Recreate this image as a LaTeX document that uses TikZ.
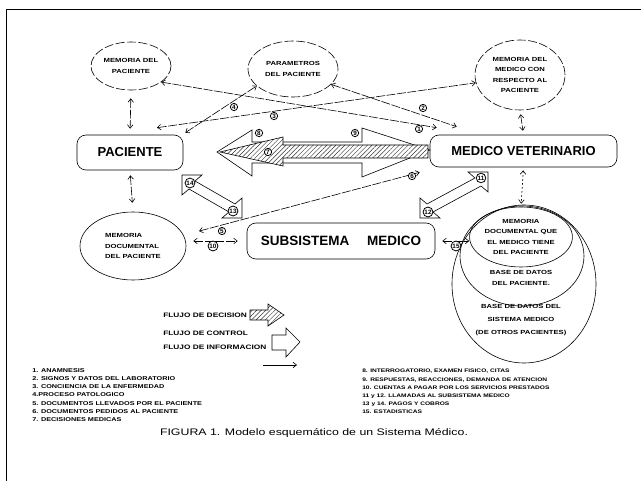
\documentclass[tikz,border=0pt]{standalone}
\usepackage{fontspec}
\setmainfont{Liberation Sans}
\newfontfamily\widesf[FakeStretch=1.3]{Liberation Sans}
\usetikzlibrary{shapes.geometric, arrows.meta, patterns.meta}

\newcommand{\lblfont}{\widesf\fontsize{5.9}{10.5}\selectfont\bfseries}
\newcommand{\boxfont}{\fontsize{13}{15}\selectfont\bfseries}
\newcommand{\numfont}{\fontsize{6.3}{7}\selectfont\bfseries}

\begin{document}
\begin{tikzpicture}[x=1pt, y=-1pt, line width=0.6pt,
    >={Straight Barb[length=3.5pt,width=5.5pt]},
    memo/.style={ellipse, draw, inner sep=0pt, align=center, font=\lblfont},
    card/.style={draw, rounded corners=9pt, font=\boxfont},
    num/.style={circle, draw, line width=0.8pt, fill=white, inner sep=0.6pt, font=\numfont},
    info/.style={<->, dash pattern=on 9pt off 1.5pt},
    ctrl/.style={draw},
    dec/.style={draw, preaction={fill=white}, pattern={Lines[angle=45, distance=3.2pt, line width=0.45pt]}, pattern color=black!80}]

    \useasboundingbox (0,0) rectangle (641,481);

    % Frame
    \draw[line width=1pt] (6,481) -- (6,10) -- (641,10);

    % Memories
    \node[memo, dash pattern=on 9pt off 2.5pt, minimum width=80pt, minimum height=48pt] (mempac) at (131,66) {MEMORIA DEL\\PACIENTE};
    \node[memo, dash pattern=on 9pt off 2.5pt, minimum width=90pt, minimum height=56pt] (param) at (293,69) {PARAMETROS\\DEL PACIENTE};
    \node[memo, dash pattern=on 9pt off 2.5pt, minimum width=90pt, minimum height=70pt] (memmed) at (520,75) {MEMORIA DEL\\MEDICO CON\\RESPECTO AL\\PACIENTE};
    \node[memo, minimum width=106pt, minimum height=68pt, align=left] (memdoc) at (133,246) {MEMORIA\\DOCUMENTAL\\DEL PACIENTE};

    % The three systems
    \node[card, minimum width=106pt, minimum height=35pt] (paciente) at (130,152.5) {PACIENTE};
    \node[card, minimum width=187pt, minimum height=32pt] (medvet) at (523.5,151) {MEDICO VETERINARIO};
    \node[card, minimum width=188pt, minimum height=36pt, font=\fontsize{13.5}{15}\selectfont\bfseries] (subs) at (341,241) {SUBSISTEMA\hspace{1.3em}MEDICO};

    % Data bases
    \node[memo, minimum width=144pt, minimum height=158pt] (bdsis) at (524,284) {};
    \node[memo, minimum width=124pt, minimum height=100pt] (bdpac) at (522,256) {};
    \node[memo, minimum width=92pt, minimum height=60pt] (memdocmed) at (521,237) {MEMORIA\\DOCUMENTAL QUE\\EL MEDICO TIENE\\DEL PACIENTE};
    \node[font=\lblfont, align=center] (bdpactxt) at (521,278) {BASE DE DATOS\\DEL PACIENTE.};
    \node[font=\widesf\fontsize{5.9}{13}\selectfont\bfseries, align=center] (bdsistxt) at (521,320) {BASE DE DATOS DEL\\SISTEMA MEDICO\\(DE OTROS PACIENTES)};

    % Information flows
    \draw[info, shorten <=8pt, shorten >=6pt] (mempac.south) -- (paciente.north);
    \draw[info, shorten <=5pt, shorten >=9pt] (paciente.south) -- (memdoc.north);
    \draw[info, shorten <=4pt, shorten >=4pt] (memmed.south) -- (medvet.north);
    \draw[info, dash pattern=on 2pt off 2pt, shorten <=3pt, shorten >=3pt] (medvet.south) -- (memdocmed.north);
    \draw[info] (mempac.-28) -- ([xshift=7pt, yshift=7pt]medvet.north west);
    \draw[info] (param.-22) -- ([xshift=27pt, yshift=8pt]medvet.north west);
    \draw[info] ([xshift=27pt, yshift=7pt]paciente.north) -- (memmed.190);
    \draw[info] ([xshift=2pt, yshift=2pt]paciente.north east) -- (param.205);
    \draw[info, shorten <=16pt] (memdoc.12) -- ([xshift=-10pt, yshift=-5pt]medvet.south west);
    \draw[info, shorten <=7pt, shorten >=9pt] (subs.west -| memdoc.east) -- (subs.west);
    \draw[info, shorten <=7pt] (subs.east) -- (subs.east -| memdocmed.west);

    % Control and decision flows
    \draw[ctrl] (217,152) -- (252,130) -- (252,142) -- (362,142) -- (362,128) -- (430,150) -- (362,177) -- (362,163) -- (252,163) -- (252,176) -- cycle;
    \draw[dec] (220,152) -- (283,137) -- (283,145) -- (428,145) -- (428,158) -- (283,158) -- (283,166) -- cycle;
    \draw[ctrl] (182,175) -- (202,175) -- (195,181) -- (235,204) -- (242,198) -- (242,218) -- (222,218) -- (229,212) -- (189,189) -- (182,195) -- cycle;
    \draw[ctrl] (488,172) -- (488,192) -- (481,186) -- (433,212) -- (440,218) -- (420,218) -- (420,198) -- (427,204) -- (475,178) -- (468,172) -- cycle;

    % The numbers
    \node[num] (n1) at (419,129) {1};
    \node[num] (n2) at (423,108) {2};
    \node[num] (n3) at (274,116) {3};
    \node[num] (n4) at (234,107) {4};
    \node[num] (n5) at (222,231) {5};
    \node[num] (n6) at (412,176) {6};
    \node[num] (n7) at (268,152) {7};
    \node[num] (n8) at (259,133) {8};
    \node[num] (n9) at (355,133) {9};
    \node[num] (n10) at (213,246) {10};
    \node[num] (n11) at (481,178) {11};
    \node[num] (n12) at (428,212) {12};
    \node[num] (n13) at (233,211) {13};
    \node[num] (n14) at (190,183) {14};
    \node[num] (n15) at (456,246) {15};

    % Legend
    \node[font=\widesf\fontsize{6.4}{7}\selectfont\bfseries, anchor=west, inner sep=0pt] (lgdec) at (163,315) {FLUJO DE DECISION};
    \node[font=\widesf\fontsize{6.4}{7}\selectfont\bfseries, anchor=west, inner sep=0pt] (lgctl) at (163,333) {FLUJO DE CONTROL};
    \node[font=\widesf\fontsize{6.4}{7}\selectfont\bfseries, anchor=west, inner sep=0pt] (lginf) at (163,347) {FLUJO DE INFORMACION};
    \draw[dec] (250,310) -- (268,310) -- (268,304) -- (284,315) -- (268,326) -- (268,320) -- (250,320) -- cycle;
    \draw[ctrl] (272,335) -- (286,335) -- (286,328) -- (300,342) -- (286,357) -- (286,350) -- (272,350) -- cycle;
    \coordinate (infa) at (263,365);
    \coordinate (infb) at (297,365);
    \draw[->] (infa) -- (infb);

    % Lists
    \node[font=\widesf\fontsize{5.6}{8.2}\selectfont\bfseries, align=left, anchor=north west, inner sep=0pt] (lista) at (32,368) {1. ANAMNESIS\\2. SIGNOS Y DATOS DEL LABORATORIO\\3. CONCIENCIA DE LA ENFERMEDAD\\4.PROCESO PATOLOGICO\\5. DOCUMENTOS LLEVADOS POR EL PACIENTE\\6. DOCUMENTOS PEDIDOS AL PACIENTE\\7. DECISIONES MEDICAS};
    \node[font=\widesf\fontsize{5.1}{8.2}\selectfont\bfseries, align=left, anchor=north west, inner sep=0pt] (listb) at (362,369) {8. INTERROGATORIO, EXAMEN FISICO, CITAS\\9. RESPUESTAS, REACCIONES, DEMANDA DE ATENCION\\10. CUENTAS A PAGAR POR LOS SERVICIOS PRESTADOS\\11 y 12. LLAMADAS AL SUBSISTEMA MEDICO\\13 y 14. PAGOS Y COBROS\\15. ESTADISTICAS};

    % Caption
    \node[font=\widesf\fontsize{9.5}{11}\selectfont] (caption) at (314,433) {FIGURA 1. Modelo esquemático de un Sistema Médico.};
\end{tikzpicture}
\end{document}
